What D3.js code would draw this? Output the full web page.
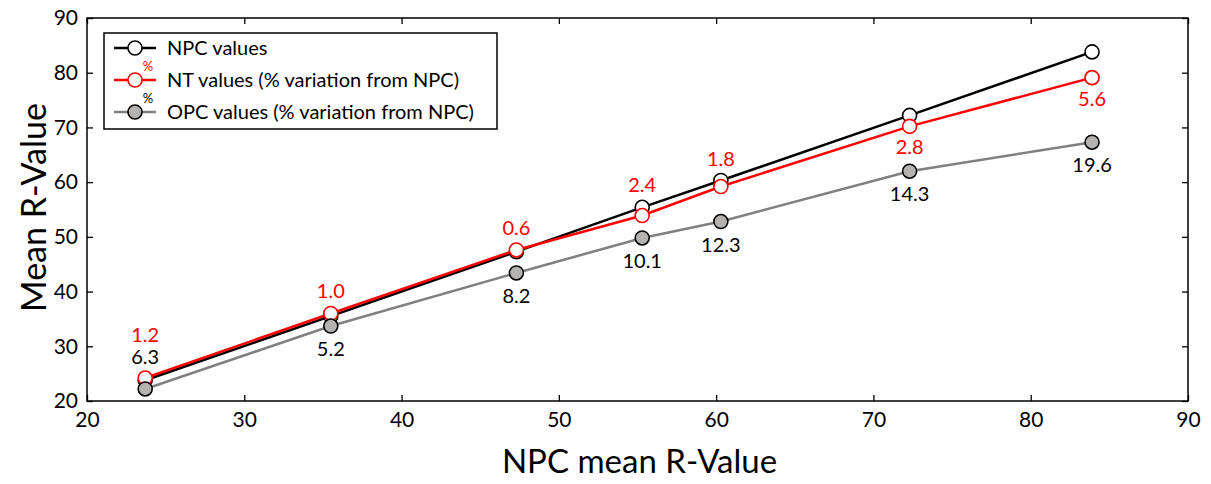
<!DOCTYPE html>
<html>
<head>
<meta charset="utf-8">
<script src="https://cdn.jsdelivr.net/npm/d3@7"></script>
<style>
  body { margin: 0; background: #fff; }
  text { font-family: Lato, "Open Sans", sans-serif; }
</style>
</head>
<body>
<div id="chart"></div>
<script>
// Chart values
var npcX = [23.7, 35.5, 47.3, 55.3, 60.3, 72.3, 83.9];
var npcValues = [23.8, 35.5, 47.3, 55.4, 60.3, 72.2, 83.8];
var ntValues = [24.2, 36.0, 47.6, 53.9, 59.2, 70.2, 79.1];
var opcValues = [22.2, 33.7, 43.4, 49.8, 52.8, 62.0, 67.3];
var ntVariation = ["1.2", "1.0", "0.6", "2.4", "1.8", "2.8", "5.6"];
var opcVariation = ["6.3", "5.2", "8.2", "10.1", "12.3", "14.3", "19.6"];
var xTicks = [20, 30, 40, 50, 60, 70, 80, 90];
var yTicks = [20, 30, 40, 50, 60, 70, 80, 90];
var legendLabels = ["NPC values", "NT values (% variation from NPC)", "OPC values (% variation from NPC)"];

// SVG area
var svgWidth = 1211;
var svgHeight = 484;

var margin = { top: 18, right: 23, bottom: 83, left: 87 };

var chartWidth = svgWidth - margin.left - margin.right;
var chartHeight = svgHeight - margin.top - margin.bottom;

var svg = d3.select("#chart")
    .append("svg")
    .attr("width", svgWidth)
    .attr("height", svgHeight);

var chartGroup = svg.append("g")
    .attr("transform", `translate(${margin.left}, ${margin.top})`);

// Scales
var xScale = d3.scaleLinear().domain([20, 90]).range([0, chartWidth]);
var yScale = d3.scaleLinear().domain([20, 90]).range([chartHeight, 0]);

// Axes with inward ticks on all four sides
var tickLen = 6;
var bottomAxis = d3.axisBottom(xScale).tickValues(xTicks).tickSize(-tickLen).tickPadding(11);
var leftAxis = d3.axisLeft(yScale).tickValues(yTicks).tickSize(-tickLen).tickPadding(9);
var topAxis = d3.axisTop(xScale).tickValues(xTicks).tickSize(-tickLen).tickFormat("");
var rightAxis = d3.axisRight(yScale).tickValues(yTicks).tickSize(-tickLen).tickFormat("");

function styleAxis(g) {
    g.select(".domain").remove();
    g.selectAll("line").attr("stroke", "#000").attr("stroke-width", 1.3);
    g.selectAll("text").attr("fill", "#000").style("font-size", "21px");
}

chartGroup.append("g")
    .attr("transform", `translate(0,${chartHeight})`)
    .call(bottomAxis)
    .call(styleAxis);

chartGroup.append("g")
    .call(leftAxis)
    .call(styleAxis);

chartGroup.append("g")
    .call(topAxis)
    .call(styleAxis);

chartGroup.append("g")
    .attr("transform", `translate(${chartWidth},0)`)
    .call(rightAxis)
    .call(styleAxis);

// Frame
chartGroup.append("rect")
    .attr("width", chartWidth)
    .attr("height", chartHeight)
    .attr("fill", "none")
    .attr("stroke", "#000")
    .attr("stroke-width", 1.5);

// Series
var series = [
    { name: "npc", values: npcValues, line: "#000", stroke: "#000", fill: "#fff" },
    { name: "nt", values: ntValues, line: "#ff0000", stroke: "#ff0000", fill: "#fff" },
    { name: "opc", values: opcValues, line: "#808080", stroke: "#000", fill: "#b5b2b2" }
];

var markerR = 7;

series.forEach(function(s) {
    var pts = npcX.map((x, i) => [x, s.values[i]]);
    var line = d3.line().x(d => xScale(d[0])).y(d => yScale(d[1]));

    chartGroup.append("path")
        .datum(pts)
        .attr("d", line)
        .attr("fill", "none")
        .attr("stroke", s.line)
        .attr("stroke-width", 2.5);

    chartGroup.selectAll(".pt-" + s.name)
        .data(pts)
        .enter().append("circle")
        .attr("class", "pt-" + s.name)
        .attr("cx", d => xScale(d[0]))
        .attr("cy", d => yScale(d[1]))
        .attr("r", markerR)
        .attr("fill", s.fill)
        .attr("stroke", s.stroke)
        .attr("stroke-width", 1.6);
});

// NT % labels: above the upper marker for the first five, below for the last two
chartGroup.selectAll(".nt-label")
    .data(ntVariation)
    .enter().append("text")
    .attr("class", "nt-label")
    .attr("x", (d, i) => xScale(npcX[i]))
    .attr("y", function(d, i) {
        if (i === 0) return yScale(ntValues[i]) - 36;
        if (i < 5) return yScale(Math.max(ntValues[i], npcValues[i])) - 15;
        return yScale(ntValues[i]) + 28;
    })
    .attr("text-anchor", "middle")
    .attr("fill", "#ff0000")
    .style("font-size", "20px")
    .text(d => d);

// OPC % labels: below the marker, except the first one which sits above
chartGroup.selectAll(".opc-label")
    .data(opcVariation)
    .enter().append("text")
    .attr("class", "opc-label")
    .attr("x", (d, i) => xScale(npcX[i]))
    .attr("y", function(d, i) {
        if (i === 0) return yScale(opcValues[i]) - 25;
        return yScale(opcValues[i]) + 30;
    })
    .attr("text-anchor", "middle")
    .attr("fill", "#000")
    .style("font-size", "20px")
    .text(d => d);

// Axis titles
svg.append("text")
    .attr("x", margin.left + chartWidth / 2 + 2)
    .attr("y", 473)
    .attr("text-anchor", "middle")
    .style("font-size", "33px")
    .text("NPC mean R-Value");

svg.append("text")
    .attr("transform", `translate(46, ${margin.top + chartHeight / 2 - 2}) rotate(-90)`)
    .attr("text-anchor", "middle")
    .style("font-size", "34px")
    .text("Mean R-Value");

// Legend
var legend = svg.append("g").attr("transform", "translate(104, 33)");

legend.append("rect")
    .attr("width", 393)
    .attr("height", 96)
    .attr("fill", "#fff")
    .attr("stroke", "#000")
    .attr("stroke-width", 1.5);

var rowY = [15, 47, 79];

legendLabels.forEach(function(label, i) {
    var s = series[i];
    var g = legend.append("g").attr("transform", `translate(0, ${rowY[i]})`);
    g.append("line")
        .attr("x1", 10).attr("x2", 52)
        .attr("stroke", s.line)
        .attr("stroke-width", 2.5);
    g.append("circle")
        .attr("cx", 31)
        .attr("r", markerR)
        .attr("fill", s.fill)
        .attr("stroke", s.stroke)
        .attr("stroke-width", 1.6);
    if (i > 0) {
        g.append("text")
            .attr("x", 44)
            .attr("y", -9)
            .attr("text-anchor", "middle")
            .attr("fill", s.line === "#808080" ? "#000" : s.line)
            .style("font-size", "13px")
            .text("%");
    }
    g.append("text")
        .attr("x", 63)
        .attr("y", 7)
        .attr("fill", "#000")
        .style("font-size", "20px")
        .text(label);
});
</script>
</body>
</html>
